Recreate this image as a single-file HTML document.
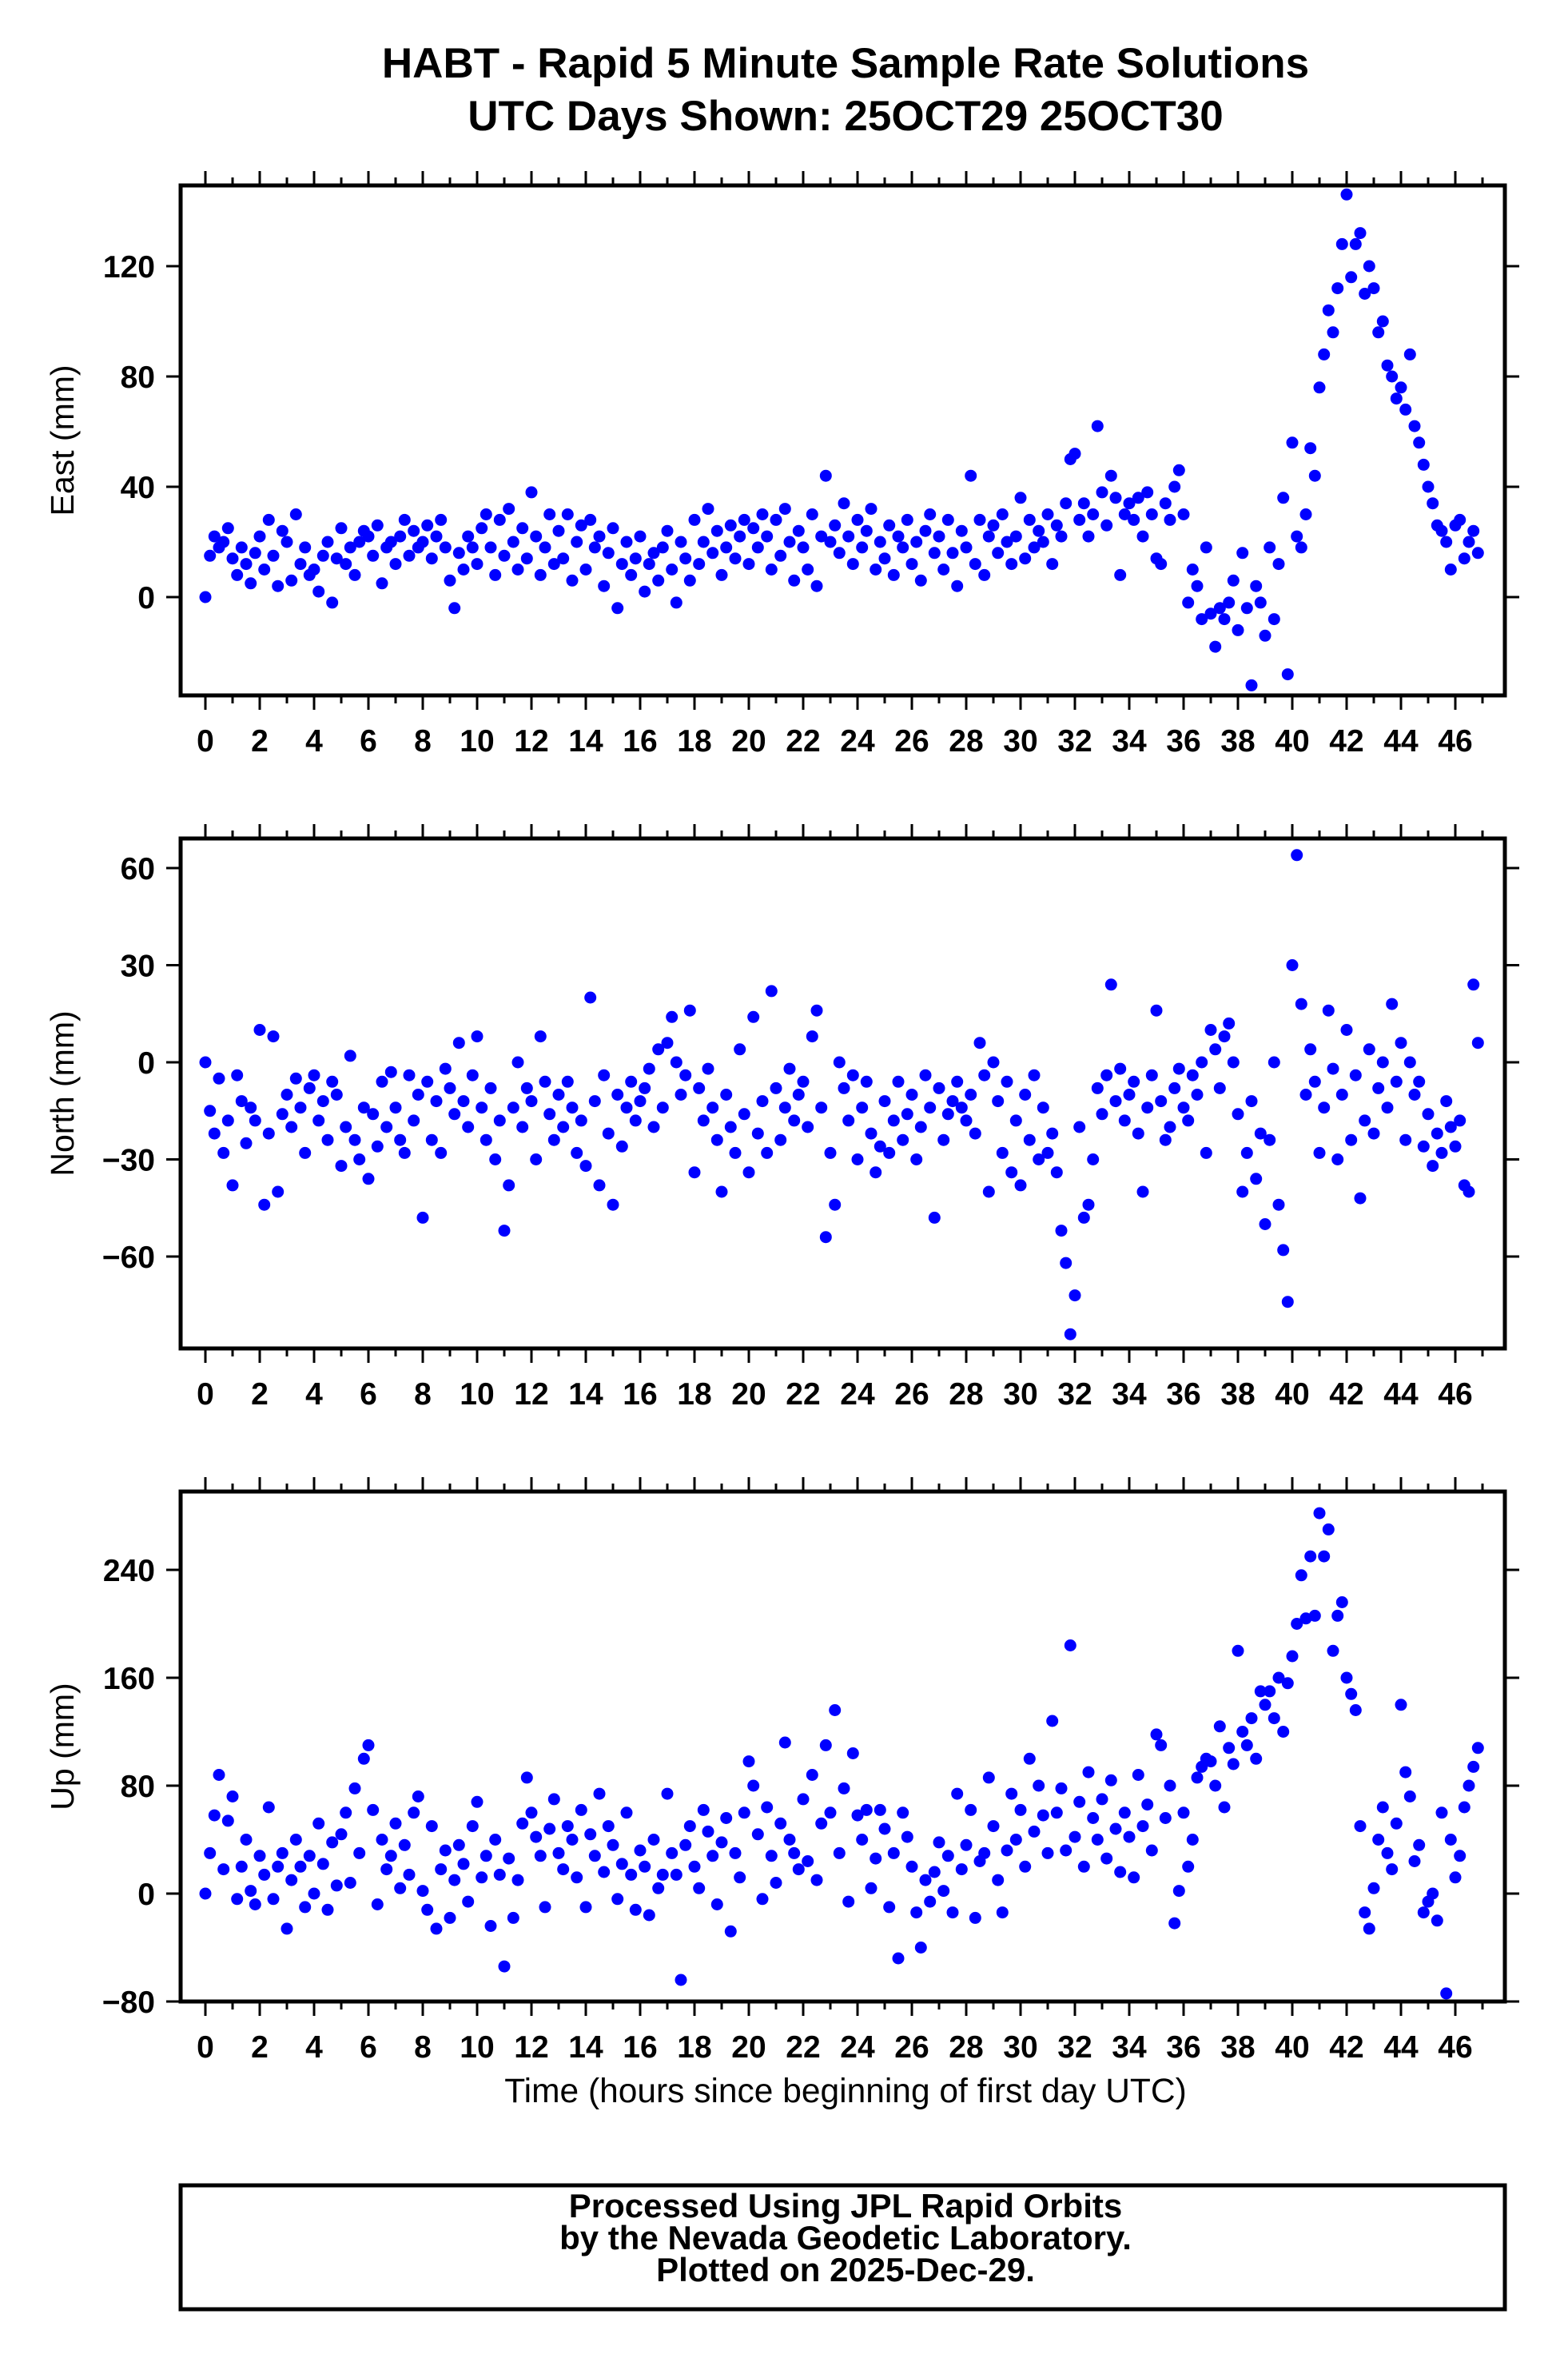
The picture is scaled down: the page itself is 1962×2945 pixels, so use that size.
<!DOCTYPE html>
<html><head><meta charset="utf-8">
<style>
html,body{margin:0;padding:0;background:#fff;}
svg{display:block;font-family:"Liberation Sans",sans-serif;}
</style></head>
<body>
<svg id="chart" width="1962" height="2945" viewBox="0 0 1962 2945">
<text x="1058" y="97" text-anchor="middle" font-size="53" font-weight="bold">HABT - Rapid 5 Minute Sample Rate Solutions</text>
<text x="1058" y="163" text-anchor="middle" font-size="53" font-weight="bold">UTC Days Shown:  25OCT29 25OCT30</text>
<g id="plots"></g>
<text x="1058" y="2630" text-anchor="middle" font-size="42.5">Time (hours since beginning of first day UTC)</text>
<rect x="226" y="2734" width="1657" height="155" fill="none" stroke="#000" stroke-width="5"/>
<text x="1058" y="2774" text-anchor="middle" font-size="42" font-weight="bold">Processed Using JPL Rapid Orbits</text>
<text x="1058" y="2814" text-anchor="middle" font-size="42" font-weight="bold">by the Nevada Geodetic Laboratory.</text>
<text x="1058" y="2854" text-anchor="middle" font-size="42" font-weight="bold">Plotted on 2025-Dec-29.</text>
</svg>
<script>
const xTicks = [0,2,4,6,8,10,12,14,16,18,20,22,24,26,28,30,32,34,36,38,40,42,44,46];
const eastTicks = [0,40,80,120];
const northTicks = [-60,-30,0,30,60];
const upTicks = [-80,0,80,160,240];
const eastVals = [0,15,22,18,20,25, 14,8,18,12,5,16, 22,10,28,15,4,24, 20,6,30,12,18,8, 10,2,15,20,-2,14, 25,12,18,8,20,24, 22,15,26,5,18,20, 12,22,28,15,24,18, 20,26,14,22,28,18, 6,-4,16,10,22,18, 12,25,30,18,8,28, 15,32,20,10,25,14, 38,22,8,18,30,12, 24,14,30,6,20,26, 10,28,18,22,4,16, 25,-4,12,20,8,14, 22,2,12,16,6,18, 24,10,-2,20,14,6, 28,12,20,32,16,24, 8,18,26,14,22,28, 12,25,18,30,22,10, 28,15,32,20,6,24, 18,10,30,4,22,44, 20,26,16,34,22,12, 28,18,24,32,10,20, 14,26,8,22,18,28, 12,20,6,24,30,16, 22,10,28,16,4,24, 18,44,12,28,8,22, 26,16,30,20,12,22, 36,14,28,18,24,20, 30,12,26,22,34,50, 52,28,34,22,30,62, 38,26,44,36,8,30, 34,28,36,22,38,30, 14,12,34,28,40,46, 30,-2,10,4,-8,18, -6,-18,-4,-8,-2,6, -12,16,-4,-32,4,-2, -14,18,-8,12,36,-28, 56,22,18,30,54,44, 76,88,104,96,112,128, 146,116,128,132,110,120, 112,96,100,84,80,72, 76,68,88,62,56,48, 40,34,26,24,20,10, 26,28,14,20,24,16];
const northVals = [0,-15,-22,-5,-28,-18, -38,-4,-12,-25,-14,-18, 10,-44,-22,8,-40,-16, -10,-20,-5,-14,-28,-8, -4,-18,-12,-24,-6,-10, -32,-20,2,-24,-30,-14, -36,-16,-26,-6,-20,-3, -14,-24,-28,-4,-18,-10, -48,-6,-24,-12,-28,-2, -8,-16,6,-12,-20,-4, 8,-14,-24,-8,-30,-18, -52,-38,-14,0,-20,-8, -12,-30,8,-6,-16,-24, -10,-20,-6,-14,-28,-18, -32,20,-12,-38,-4,-22, -44,-10,-26,-14,-6,-18, -12,-8,-2,-20,4,-14, 6,14,0,-10,-4,16, -34,-8,-18,-2,-14,-24, -40,-10,-20,-28,4,-16, -34,14,-22,-12,-28,22, -8,-24,-14,-2,-18,-10, -6,-20,8,16,-14,-54, -28,-44,0,-8,-18,-4, -30,-14,-6,-22,-34,-26, -12,-28,-18,-6,-24,-16, -10,-30,-20,-4,-14,-48, -8,-24,-16,-12,-6,-14, -18,-10,-22,6,-4,-40, 0,-12,-28,-6,-34,-18, -38,-10,-24,-4,-30,-14, -28,-22,-34,-52,-62,-84, -72,-20,-48,-44,-30,-8, -16,-4,24,-12,-2,-18, -10,-6,-22,-40,-14,-4, 16,-12,-24,-20,-8,-2, -14,-18,-4,-10,0,-28, 10,4,-8,8,12,0, -16,-40,-28,-12,-36,-22, -50,-24,0,-44,-58,-74, 30,64,18,-10,4,-6, -28,-14,16,-2,-30,-10, 10,-24,-4,-42,-18,4, -22,-8,0,-14,18,-6, 6,-24,0,-10,-6,-26, -16,-32,-22,-28,-12,-20, -26,-18,-38,-40,24,6];
const upVals = [0,30,58,88,18,54, 72,-4,20,40,2,-8, 28,14,64,-4,20,30, -26,10,40,20,-10,28, 0,52,22,-12,38,6, 44,60,8,78,30,100, 110,62,-8,40,18,28, 52,4,36,14,60,72, 2,-12,50,-26,18,32, -18,10,36,22,-6,50, 68,12,28,-24,40,14, -54,26,-18,10,52,86, 60,42,28,-10,48,70, 30,18,50,40,12,62, -10,44,28,74,16,50, 36,-4,22,60,14,-12, 32,20,-16,40,4,14, 74,30,14,-64,36,50, 20,4,62,46,28,-8, 38,56,-28,30,12,60, 98,80,44,-4,64,28, 8,52,112,40,30,18, 70,24,88,10,52,110, 60,136,30,78,-6,104, 58,40,62,4,26,62, 48,-10,30,-48,60,42, 20,-14,-40,10,-6,16, 38,2,28,-14,74,18, 36,62,-18,24,30,86, 50,10,-14,32,74,40, 62,20,100,46,80,58, 30,128,60,78,32,184, 42,68,20,90,56,40, 70,26,84,48,16,60, 42,12,88,50,66,32, 118,110,56,80,-22,2, 60,20,40,86,94,100, 98,80,124,64,108,96, 180,120,110,130,100,150, 140,150,130,160,120,156, 176,200,236,204,250,206, 282,250,270,180,206,216, 160,148,136,50,-14,-26, 4,40,64,30,18,52, 140,90,72,24,36,-14, -6,0,-20,60,-74,40, 12,28,64,80,94,108];

const NS = "http://www.w3.org/2000/svg";
const X0 = 226, X1 = 1883;
function xScale(h){ return 257 + h*34.0; }
function mk(tag, attrs, parent){ const e=document.createElementNS(NS,tag); for(const k in attrs) e.setAttribute(k,attrs[k]); parent.appendChild(e); return e; }
const root = document.getElementById('plots');

function panel(key, title, vals, ticks, top, bottom, zeroY, pxPerMm){
  const yScale = v => zeroY - v*pxPerMm;
  const g = mk('g',{},root);
  
  
  const dots = mk('g',{fill:'#0000ff'},g);
  
  
  vals.forEach((v,i)=>{
    const c = mk('circle',{cx:xScale(i/6).toFixed(1), cy:yScale(v).toFixed(1), r:7.5},dots);
    
    
  });
  const frame = mk('rect',{x:X0,y:top,width:X1-X0,height:bottom-top,fill:'none',stroke:'#000','stroke-width':5},g);
  
  
  const tk = mk('g',{stroke:'#000','stroke-width':3},g);
  
  
  for(let h=0; h<=47; h++){
    const x=xScale(h), len=(h%2===0)?16:8;
    mk('line',{x1:x,y1:bottom+2,x2:x,y2:bottom+2+len},tk);
    mk('line',{x1:x,y1:top-2,x2:x,y2:top-2-len},tk);
  }
  xTicks.forEach(h=>{
    const t = mk('text',{x:xScale(h),y:bottom+70,'text-anchor':'middle','font-size':39,'font-weight':'bold'},g);
    t.textContent = h;
    
    
  });
  ticks.forEach(v=>{
    const y=yScale(v);
    mk('line',{x1:X0-2,y1:y,x2:X0-18,y2:y},tk);
    mk('line',{x1:X1+2,y1:y,x2:X1+18,y2:y},tk);
    const t = mk('text',{x:194,y:y+14,'text-anchor':'end','font-size':39,'font-weight':'bold'},g);
    t.textContent = v<0 ? '\u2212'+(-v) : v;
    
    
  });
  const cy=(top+bottom)/2;
  const yt = mk('text',{x:92,y:cy,'text-anchor':'middle','font-size':41,transform:`rotate(-90 92 ${cy})`},g);
  yt.textContent = title;
  
  
}
panel('east','East (mm)',eastVals,eastTicks,232,870,747,3.45);
panel('north','North (mm)',northVals,northTicks,1049,1687,1329,4.05);
panel('up','Up (mm)',upVals,upTicks,1866,2504,2369,1.6875);
</script>
</body></html>
